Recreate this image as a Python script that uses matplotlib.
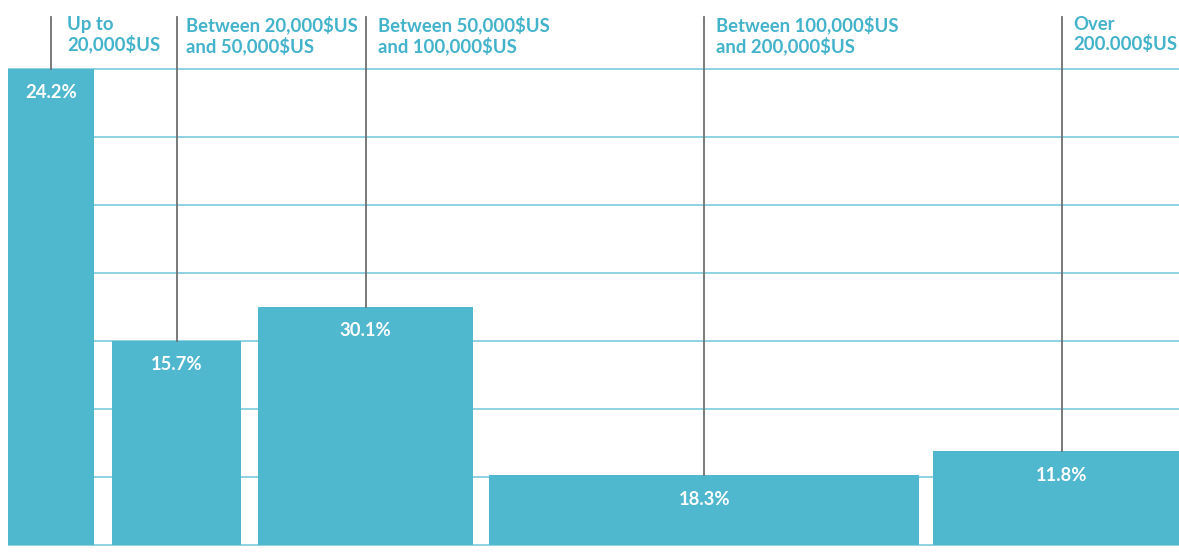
import matplotlib
matplotlib.use("Agg")
import matplotlib.pyplot as plt
import matplotlib.transforms as mtransforms

# ---- data ----
categories = ["Up to\n20,000$US", "Between 20,000$US\nand 50,000$US",
              "Between 50,000$US\nand 100,000$US", "Between 100,000$US\nand 200,000$US",
              "Over\n200.000$US"]
shares = [24.2, 15.7, 30.1, 18.3, 11.8]            # percent labels
bracket_widths = [20, 30, 50, 100, 60]             # thousand US$ (bar widths)
heights = [7.0, 3.0, 3.5, 1.02, 1.375]             # bar heights (grid units)
grid_levels = [0, 1, 2, 3, 4, 5, 6, 7]

BAR = "#4fb7ce"
GRID = "#86cfe0"
TXT = "#43b2cb"
LEAD = "#707070"
gaps = [4.2, 4.0, 3.7, 3.2]

W, H = 1179, 556
fig = plt.figure(figsize=(W / 100, H / 100), dpi=100)
ax = fig.add_axes([0, 0, 1, 1])
pxk = 4.3
ax.set_xlim(-8 / pxk, (W - 8) / pxk)
ax.set_ylim(-11.5 / 68, 544.5 / 68)
ax.axis("off")

lefts = []
x = 0
for i, w in enumerate(bracket_widths):
    lefts.append(x)
    x += w + (gaps[i] if i < len(gaps) else 0)
centers = [l + w / 2 for l, w in zip(lefts, bracket_widths)]

for g in grid_levels:
    ax.plot([0, 400], [g, g], color=GRID, lw=1.3, zorder=1, solid_capstyle="butt")

ax.bar(lefts, heights, width=bracket_widths, align="edge", color=BAR, zorder=2, linewidth=0)

blend = mtransforms.blended_transform_factory(ax.transData, ax.transAxes)
label_offsets = [16, 9, 12, 12, 11]
ytop = ax.get_ylim()[1] - 17 / 68
for c, h, cat, s, off in zip(centers, heights, categories, shares, label_offsets):
    ax.plot([c, c], [h, ytop], color=LEAD, lw=1.3, zorder=3)
    ax.annotate(cat, xy=(c, 1 - 16 / H), xycoords=blend, xytext=(off * 0.72, 0),
                textcoords="offset points", ha="left", va="top", fontsize=13.3,
                fontfamily="Lato", fontweight="bold", color=TXT, linespacing=1.12)
    ax.annotate(f"{s}%", xy=(c, h), xytext=(0, -24.5 * 0.72), textcoords="offset points",
                ha="center", va="center", fontsize=13.3, fontfamily="Lato",
                fontweight="bold", color="white", zorder=4)

fig.savefig("out.png", dpi=100)
